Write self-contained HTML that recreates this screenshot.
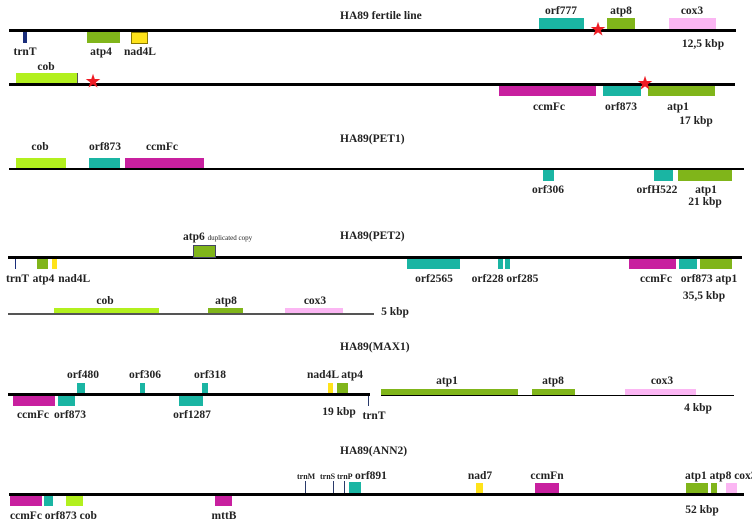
<!DOCTYPE html>
<html><head><meta charset="utf-8">
<style>
html,body{margin:0;padding:0;background:#fff;}
#c{position:relative;width:752px;height:526px;overflow:hidden;background:#fff;font-family:"Liberation Serif",serif;font-weight:bold;color:#222;}
.l{position:absolute;background:#000;}
.b{position:absolute;}
.t{position:absolute;font-size:11.5px;line-height:12px;white-space:nowrap;transform:translateX(-50%);}
.tl{position:absolute;font-size:11.5px;line-height:12px;white-space:nowrap;}
.s{position:absolute;color:#ee1c24;font-size:19px;line-height:19px;transform:translate(-50%,-50%);font-weight:normal;font-family:"DejaVu Sans",sans-serif;}
.teal{background:#1ab5a3;}.olive{background:#80b51a;}.lime{background:#b2f01e;}.mag{background:#c8209f;}.pink{background:#fbb6f3;}.yel{background:#ffe31a;}.navy{background:#1a2d7a;}.tick{background:#2a3a6a;}
</style></head><body>
<div id="c">

<!-- Row 1: fertile line -->
<div class="tl" style="left:340px;top:10px">HA89 fertile line</div>
<div class="l" style="left:9px;top:29px;width:727px;height:3px"></div>
<div class="b navy" style="left:23px;top:32px;width:4px;height:11px"></div>
<div class="b olive" style="left:87px;top:32px;width:33px;height:11px"></div>
<div class="b yel" style="left:131px;top:32px;width:15px;height:10px;border:1px solid #8a7a00"></div>
<div class="t" style="left:25px;top:46px">trnT</div>
<div class="t" style="left:101px;top:46px">atp4</div>
<div class="t" style="left:140px;top:46px">nad4L</div>
<div class="b teal" style="left:539px;top:18px;width:45px;height:11px"></div>
<div class="b olive" style="left:607px;top:18px;width:28px;height:11px"></div>
<div class="b pink" style="left:669px;top:18px;width:47px;height:11px"></div>
<div class="t" style="left:561px;top:5px">orf777</div>
<div class="t" style="left:621px;top:5px">atp8</div>
<div class="t" style="left:692px;top:5px">cox3</div>
<div class="s" style="left:598px;top:30px">★</div>
<div class="t" style="left:703px;top:38px">12,5 kbp</div>

<!-- Row 2 -->
<div class="l" style="left:9px;top:83px;width:726px;height:3px"></div>
<div class="b lime" style="left:16px;top:73px;width:61px;height:10px;border-right:1px solid #555"></div>
<div class="t" style="left:46px;top:61px">cob</div>
<div class="s" style="left:93px;top:82px">★</div>
<div class="b mag" style="left:499px;top:86px;width:97px;height:10px"></div>
<div class="b teal" style="left:603px;top:86px;width:38px;height:10px"></div>
<div class="b olive" style="left:648px;top:86px;width:67px;height:10px"></div>
<div class="s" style="left:645px;top:84px">★</div>
<div class="t" style="left:549px;top:101px">ccmFc</div>
<div class="t" style="left:621px;top:101px">orf873</div>
<div class="t" style="left:678px;top:101px">atp1</div>
<div class="t" style="left:696px;top:115px">17 kbp</div>

<!-- Row 3: PET1 -->
<div class="tl" style="left:340px;top:133px">HA89(PET1)</div>
<div class="l" style="left:9px;top:168px;width:735px;height:2px"></div>
<div class="b lime" style="left:16px;top:158px;width:50px;height:10px"></div>
<div class="b teal" style="left:89px;top:158px;width:31px;height:10px"></div>
<div class="b mag" style="left:125px;top:158px;width:79px;height:10px"></div>
<div class="t" style="left:40px;top:141px">cob</div>
<div class="t" style="left:105px;top:141px">orf873</div>
<div class="t" style="left:162px;top:141px">ccmFc</div>
<div class="b teal" style="left:543px;top:170px;width:11px;height:11px"></div>
<div class="b teal" style="left:654px;top:170px;width:19px;height:11px"></div>
<div class="b olive" style="left:678px;top:170px;width:54px;height:11px"></div>
<div class="t" style="left:548px;top:184px">orf306</div>
<div class="t" style="left:657px;top:184px">orfH522</div>
<div class="t" style="left:706px;top:184px">atp1</div>
<div class="t" style="left:705px;top:196px">21 kbp</div>

<!-- Row 4: PET2 -->
<div class="tl" style="left:340px;top:230px">HA89(PET2)</div>
<div class="l" style="left:8px;top:256px;width:734px;height:3px"></div>
<div class="b olive" style="left:193px;top:245px;width:21px;height:11px;border:1px solid #446"></div>
<div class="tl" style="left:183px;top:231px">atp6 <span style="font-weight:normal;font-size:7px">duplicated copy</span></div>
<div class="b navy" style="left:15px;top:259px;width:1px;height:10px"></div>
<div class="b olive" style="left:37px;top:259px;width:11px;height:10px"></div>
<div class="b yel" style="left:52px;top:259px;width:5px;height:10px"></div>
<div class="tl" style="left:6px;top:273px;word-spacing:1px">trnT atp4 nad4L</div>
<div class="b teal" style="left:407px;top:259px;width:53px;height:10px"></div>
<div class="b teal" style="left:498px;top:259px;width:5px;height:10px"></div>
<div class="b teal" style="left:505px;top:259px;width:5px;height:10px"></div>
<div class="b mag" style="left:629px;top:259px;width:47px;height:10px"></div>
<div class="b teal" style="left:679px;top:259px;width:18px;height:10px"></div>
<div class="b olive" style="left:700px;top:259px;width:32px;height:10px"></div>
<div class="t" style="left:434px;top:273px">orf2565</div>
<div class="t" style="left:505px;top:273px">orf228 orf285</div>
<div class="t" style="left:656px;top:273px">ccmFc</div>
<div class="t" style="left:709px;top:273px">orf873 atp1</div>
<div class="t" style="left:704px;top:290px">35,5 kbp</div>

<!-- Row 5 -->
<div class="l" style="left:8px;top:313px;width:366px;height:2px;background:#555"></div>
<div class="b lime" style="left:54px;top:308px;width:105px;height:5px"></div>
<div class="b olive" style="left:208px;top:308px;width:35px;height:5px"></div>
<div class="b pink" style="left:285px;top:308px;width:58px;height:5px"></div>
<div class="t" style="left:105px;top:295px">cob</div>
<div class="t" style="left:226px;top:295px">atp8</div>
<div class="t" style="left:315px;top:295px">cox3</div>
<div class="t" style="left:395px;top:306px">5 kbp</div>

<!-- Row 6: MAX1 -->
<div class="tl" style="left:340px;top:341px">HA89(MAX1)</div>
<div class="l" style="left:8px;top:393px;width:362px;height:3px"></div>
<div class="b teal" style="left:77px;top:383px;width:8px;height:10px"></div>
<div class="b teal" style="left:140px;top:383px;width:5px;height:10px"></div>
<div class="b teal" style="left:202px;top:383px;width:6px;height:10px"></div>
<div class="b yel" style="left:328px;top:383px;width:5px;height:10px"></div>
<div class="b olive" style="left:337px;top:383px;width:11px;height:10px"></div>
<div class="t" style="left:83px;top:369px">orf480</div>
<div class="t" style="left:145px;top:369px">orf306</div>
<div class="t" style="left:210px;top:369px">orf318</div>
<div class="t" style="left:335px;top:369px">nad4L atp4</div>
<div class="b mag" style="left:13px;top:396px;width:42px;height:10px"></div>
<div class="b teal" style="left:58px;top:396px;width:17px;height:10px"></div>
<div class="b teal" style="left:179px;top:396px;width:24px;height:10px"></div>
<div class="t" style="left:33px;top:409px">ccmFc</div>
<div class="t" style="left:70px;top:409px">orf873</div>
<div class="t" style="left:192px;top:409px">orf1287</div>
<div class="t" style="left:339px;top:406px">19 kbp</div>
<div class="b tick" style="left:368px;top:396px;width:1px;height:10px"></div>
<div class="t" style="left:374px;top:410px">trnT</div>
<div class="l" style="left:381px;top:395px;width:353px;height:1px"></div>
<div class="b olive" style="left:381px;top:389px;width:137px;height:6px"></div>
<div class="b olive" style="left:532px;top:389px;width:43px;height:6px"></div>
<div class="b pink" style="left:625px;top:389px;width:71px;height:6px"></div>
<div class="t" style="left:447px;top:375px">atp1</div>
<div class="t" style="left:553px;top:375px">atp8</div>
<div class="t" style="left:662px;top:375px">cox3</div>
<div class="t" style="left:698px;top:402px">4 kbp</div>

<!-- Row 7: ANN2 -->
<div class="tl" style="left:340px;top:445px">HA89(ANN2)</div>
<div class="l" style="left:9px;top:493px;width:735px;height:3px"></div>
<div class="b tick" style="left:305px;top:481px;width:1px;height:12px"></div>
<div class="b tick" style="left:333px;top:481px;width:1px;height:12px"></div>
<div class="b tick" style="left:344px;top:481px;width:1px;height:12px"></div>
<div class="b teal" style="left:349px;top:482px;width:12px;height:11px"></div>
<div class="tl" style="left:297px;top:472px;font-size:8px;line-height:9px">trnM</div>
<div class="tl" style="left:320px;top:472px;font-size:8px;line-height:9px">trnS</div>
<div class="tl" style="left:337px;top:472px;font-size:8px;line-height:9px">trnP</div>
<div class="tl" style="left:355px;top:470px">orf891</div>
<div class="b yel" style="left:476px;top:483px;width:7px;height:10px"></div>
<div class="b mag" style="left:535px;top:483px;width:24px;height:10px"></div>
<div class="b olive" style="left:686px;top:483px;width:22px;height:10px"></div>
<div class="b olive" style="left:711px;top:483px;width:6px;height:10px"></div>
<div class="b pink" style="left:726px;top:483px;width:11px;height:10px"></div>
<div class="t" style="left:480px;top:470px">nad7</div>
<div class="t" style="left:547px;top:470px">ccmFn</div>
<div class="tl" style="left:685px;top:470px">atp1 atp8 cox3</div>
<div class="b mag" style="left:10px;top:496px;width:32px;height:10px"></div>
<div class="b teal" style="left:44px;top:496px;width:9px;height:10px"></div>
<div class="b lime" style="left:66px;top:496px;width:17px;height:10px"></div>
<div class="b mag" style="left:215px;top:496px;width:17px;height:10px"></div>
<div class="tl" style="left:10px;top:510px">ccmFc orf873 cob</div>
<div class="t" style="left:224px;top:510px">mttB</div>
<div class="t" style="left:702px;top:504px">52 kbp</div>
</div>
</body></html>
